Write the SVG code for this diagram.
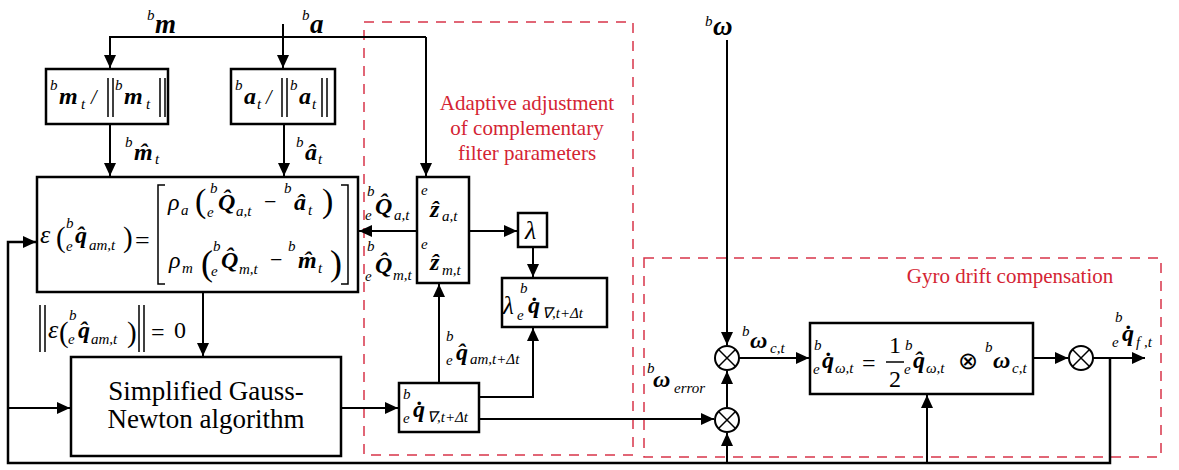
<svg xmlns="http://www.w3.org/2000/svg" width="1179" height="470" viewBox="0 0 1179 470">
<style>
.ln{fill:none;stroke:#000;stroke-width:2}
.bx{fill:#fff;stroke:#000;stroke-width:2.5}
.dl{fill:none;stroke:#000;stroke-width:1.5}
.grp{fill:none;stroke:#d8344a;stroke-width:1.5;stroke-dasharray:10 8}
.t{font-family:"Liberation Serif",serif;fill:#000;font-size:24px}
.rt{font-family:"Liberation Serif",serif;fill:#d42433;font-size:21px;text-anchor:middle}
.gt{font-family:"Liberation Serif",serif;font-size:27px;text-anchor:middle;fill:#000}
.v{font-style:italic;font-weight:bold;font-size:24px}
.i{font-style:italic;font-size:24px}
.sp{font-style:italic;font-weight:normal;font-size:15px}
.sb{font-style:italic;font-weight:normal;font-size:15px}
.r{font-style:normal;font-weight:normal;font-size:24px}
</style>
<defs>
<marker id="ah" markerUnits="userSpaceOnUse" markerWidth="14" markerHeight="12" refX="13" refY="6" orient="auto">
<path d="M0,0 L13,6 L0,12 z" fill="#000"/>
</marker>
</defs>

<g id="regions">
<rect class="grp" x="364" y="22" width="269" height="433"/>
<rect class="grp" x="644" y="258" width="517" height="199"/>
<text class="rt" x="527" y="110">Adaptive adjustment</text>
<text class="rt" x="527" y="135">of complementary</text>
<text class="rt" x="527" y="160">filter parameters</text>
<text class="rt" x="1010" y="283">Gyro drift compensation</text>
</g>

<g id="connectors">
<path class="ln" d="M283,24 L283,68" marker-end="url(#ah)"/>
<path class="ln" d="M426,37 L110,37 L110,68" marker-end="url(#ah)"/>
<path class="ln" d="M426,37 L426,176" marker-end="url(#ah)"/>
<path class="ln" d="M110,124 L110,176" marker-end="url(#ah)"/>
<path class="ln" d="M284,124 L284,176" marker-end="url(#ah)"/>
<path class="ln" d="M417,231 L359,231" marker-end="url(#ah)"/>
<path class="ln" d="M469,231 L517,231" marker-end="url(#ah)"/>
<path class="ln" d="M533,247 L533,277" marker-end="url(#ah)"/>
<path class="ln" d="M439,383 L439,284" marker-end="url(#ah)"/>
<path class="ln" d="M479,397 L533,397 L533,328" marker-end="url(#ah)"/>
<path class="ln" d="M203,292 L203,356" marker-end="url(#ah)"/>
<path class="ln" d="M341,408 L398,408" marker-end="url(#ah)"/>
<path class="ln" d="M479,419 L714,419" marker-end="url(#ah)"/>
<path class="ln" d="M727,463 L727,433" marker-end="url(#ah)"/>
<path class="ln" d="M727,407 L727,371" marker-end="url(#ah)"/>
<path class="ln" d="M727,40 L727,345" marker-end="url(#ah)"/>
<path class="ln" d="M739,358 L809,358" marker-end="url(#ah)"/>
<path class="ln" d="M1033,358 L1068,358" marker-end="url(#ah)"/>
<path class="ln" d="M1093,358 L1145,358" marker-end="url(#ah)"/>
<path class="ln" style="stroke-width:2.5" d="M1110,358 L1110,463 L8,463 L8,242 L36,242" marker-end="url(#ah)"/>
<path class="ln" d="M8,408 L70,408" marker-end="url(#ah)"/>
<path class="ln" d="M927,463 L927,395" marker-end="url(#ah)"/>
</g>

<g id="input-labels">
<text class="t"><tspan class="sp" x="147" y="20">b</tspan><tspan class="v" style="font-size:27px" x="155" y="33">m</tspan></text>
<text class="t"><tspan class="sp" x="302" y="20">b</tspan><tspan class="v" style="font-size:27px" x="310" y="33">a</tspan></text>
<text class="t"><tspan class="sp" x="705" y="26">b</tspan><tspan class="v" style="font-size:27px" x="713" y="35">ω</tspan></text>
</g>

<g id="norm-m">
<rect class="bx" x="46" y="69" width="122" height="55"/>
<path class="dl" d="M108,78 V117 M113,78 V117 M160,78 V117 M165,78 V117"/>
<text class="t"><tspan class="sp" x="50" y="90">b</tspan><tspan class="v" x="59" y="104">m</tspan><tspan class="sb" x="81" y="109">t</tspan><tspan class="i" style="font-size:20px" x="91" y="104">/</tspan><tspan class="sp" x="115" y="90">b</tspan><tspan class="v" x="124" y="104">m</tspan><tspan class="sb" x="146" y="109">t</tspan></text>
</g>

<g id="norm-a">
<rect class="bx" x="231" y="69" width="104" height="55"/>
<path class="dl" d="M282,78 V117 M287,78 V117 M322,78 V117 M327,78 V117"/>
<text class="t"><tspan class="sp" x="235" y="90">b</tspan><tspan class="v" x="244" y="104">a</tspan><tspan class="sb" x="257" y="109">t</tspan><tspan class="i" style="font-size:20px" x="266" y="104">/</tspan><tspan class="sp" x="290" y="90">b</tspan><tspan class="v" x="299" y="104">a</tspan><tspan class="sb" x="312" y="109">t</tspan></text>
</g>

<g id="hat-labels">
<text class="t"><tspan class="sp" x="125" y="147">b</tspan><tspan class="v" x="134" y="160">m̂</tspan><tspan class="sb" x="155" y="164">t</tspan></text>
<text class="t"><tspan class="sp" x="296" y="147">b</tspan><tspan class="v" x="305" y="160">â</tspan><tspan class="sb" x="318" y="164">t</tspan></text>
</g>

<g id="error-box">
<rect class="bx" x="37" y="177" width="321" height="115"/>
<path class="dl" d="M165,185 H158 V284 H165 M341,185 H348 V284 H341"/>
<text class="t"><tspan class="i" style="font-size:26px" x="40" y="243">ε</tspan><tspan class="r" style="font-size:29px" x="56" y="247">(</tspan><tspan class="sp" x="66" y="228">b</tspan><tspan class="sb" x="66" y="251">e</tspan><tspan class="v" x="75" y="243">q̂</tspan><tspan class="sb" x="89" y="250">am,t</tspan><tspan class="r" style="font-size:29px" x="123" y="247">)</tspan><tspan class="r" style="font-size:26px" x="135" y="249">=</tspan></text>
<text class="t"><tspan class="i" x="168" y="210">ρ</tspan><tspan class="sb" x="181" y="215">a</tspan><tspan class="r" style="font-size:34px" x="195" y="212">(</tspan><tspan class="sp" x="210" y="193">b</tspan><tspan class="sb" x="207" y="217">e</tspan><tspan class="v" x="218" y="210">Q̂</tspan><tspan class="sb" x="236" y="216">a,t</tspan><tspan class="r" style="font-size:22px" x="264" y="209">−</tspan><tspan class="sp" x="284" y="193">b</tspan><tspan class="v" x="294" y="210">â</tspan><tspan class="sb" x="308" y="215">t</tspan><tspan class="r" style="font-size:34px" x="322" y="212">)</tspan></text>
<text class="t"><tspan class="i" x="169" y="268">ρ</tspan><tspan class="sb" x="182" y="273">m</tspan><tspan class="r" style="font-size:36px" x="201" y="275">(</tspan><tspan class="sp" x="213" y="251">b</tspan><tspan class="sb" x="211" y="276">e</tspan><tspan class="v" x="221" y="268">Q̂</tspan><tspan class="sb" x="239" y="274">m,t</tspan><tspan class="r" style="font-size:22px" x="270" y="267">−</tspan><tspan class="sp" x="288" y="251">b</tspan><tspan class="v" x="298" y="268">m̂</tspan><tspan class="sb" x="318" y="273">t</tspan><tspan class="r" style="font-size:36px" x="330" y="275">)</tspan></text>
</g>

<g id="norm-zero-label">
<path class="dl" d="M40,305 V352 M45,305 V352 M139,305 V352 M144,305 V352"/>
<text class="t"><tspan class="i" style="font-size:26px" x="48" y="338">ε</tspan><tspan class="r" style="font-size:29px" x="59" y="342">(</tspan><tspan class="sp" x="69" y="320">b</tspan><tspan class="sb" x="68" y="344">e</tspan><tspan class="v" x="78" y="338">q̂</tspan><tspan class="sb" x="91" y="344">am,t</tspan><tspan class="r" style="font-size:29px" x="127" y="342">)</tspan><tspan class="r" x="151" y="340">=</tspan><tspan class="r" x="174" y="338">0</tspan></text>
</g>

<g id="gauss-newton">
<rect class="bx" x="71" y="357" width="270" height="99"/>
<text class="gt" x="206" y="400">Simplified Gauss-</text>
<text class="gt" x="206" y="428">Newton algorithm</text>
</g>

<g id="q-labels">
<text class="t"><tspan class="sp" x="367" y="196">b</tspan><tspan class="sb" x="365" y="220">e</tspan><tspan class="v" x="375" y="214">Q̂</tspan><tspan class="sb" x="394" y="220">a,t</tspan></text>
<text class="t"><tspan class="sp" x="367" y="251">b</tspan><tspan class="sb" x="365" y="281">e</tspan><tspan class="v" x="375" y="273">Q̂</tspan><tspan class="sb" x="393" y="280">m,t</tspan></text>
</g>

<g id="z-box">
<rect class="bx" x="417" y="177" width="52" height="106"/>
<text class="t"><tspan class="sp" x="421" y="195">e</tspan><tspan class="v" x="430" y="217">ẑ</tspan><tspan class="sb" x="442" y="221">a,t</tspan></text>
<text class="t"><tspan class="sp" x="421" y="249">e</tspan><tspan class="v" x="430" y="270">ẑ</tspan><tspan class="sb" x="442" y="275">m,t</tspan></text>
</g>

<g id="lambda-box">
<rect class="bx" x="518" y="213" width="29" height="34"/>
<text class="t"><tspan class="i" style="font-size:26px" x="525" y="239">λ</tspan></text>
</g>

<g id="lambda-q-box">
<rect class="bx" x="502" y="278" width="105" height="49"/>
<text class="t"><tspan class="i" style="font-size:25px" x="503" y="314">λ</tspan><tspan class="sp" x="520" y="293">b</tspan><tspan class="sb" x="517" y="320">e</tspan><tspan class="v" x="528" y="313">q̇</tspan><tspan class="sb" x="542" y="318">∇,t+Δt</tspan></text>
</g>

<g id="qam-label">
<text class="t"><tspan class="sp" x="446" y="341">b</tspan><tspan class="sb" x="446" y="365">e</tspan><tspan class="v" x="456" y="360">q̂</tspan><tspan class="sb" x="470" y="364">am,t+Δt</tspan></text>
</g>

<g id="qdot-box">
<rect class="bx" x="399" y="383" width="80" height="49"/>
<text class="t"><tspan class="sp" x="403" y="399">b</tspan><tspan class="sb" x="403" y="423">e</tspan><tspan class="v" x="413" y="417">q̇</tspan><tspan class="sb" x="427" y="422">∇,t+Δt</tspan></text>
</g>

<g id="sum-upper">
<circle cx="727" cy="358" r="12" fill="#fff" stroke="#000" stroke-width="2"/>
<path class="dl" d="M718.5,349.5 L735.5,366.5 M735.5,349.5 L718.5,366.5"/>
</g>
<g id="sum-lower">
<circle cx="727" cy="420" r="12" fill="#fff" stroke="#000" stroke-width="2"/>
<path class="dl" d="M718.5,411.5 L735.5,428.5 M735.5,411.5 L718.5,428.5"/>
</g>
<g id="sum-out">
<circle cx="1081" cy="358" r="12" fill="#fff" stroke="#000" stroke-width="2"/>
<path class="dl" d="M1072.5,349.5 L1089.5,366.5 M1089.5,349.5 L1072.5,366.5"/>
</g>

<g id="omega-labels">
<text class="t"><tspan class="sp" x="742" y="336">b</tspan><tspan class="v" x="750" y="348">ω</tspan><tspan class="sb" x="770" y="353">c,t</tspan></text>
<text class="t"><tspan class="sp" x="647" y="373">b</tspan><tspan class="v" x="653" y="387">ω</tspan><tspan class="sb" x="674" y="393">error</tspan></text>
</g>

<g id="gyro-box">
<rect class="bx" x="810" y="323" width="223" height="71"/>
<path class="dl" d="M886,362 H904"/>
<text class="t"><tspan class="sp" x="814" y="350">b</tspan><tspan class="sb" x="813" y="374">e</tspan><tspan class="v" x="822" y="368">q̇</tspan><tspan class="sb" x="835" y="373">ω,t</tspan><tspan class="r" x="862" y="371">=</tspan><tspan class="r" x="889" y="353">1</tspan><tspan class="r" x="889" y="387">2</tspan><tspan class="sp" x="905" y="350">b</tspan><tspan class="sb" x="904" y="374">e</tspan><tspan class="v" x="913" y="368">q̂</tspan><tspan class="sb" x="926" y="373">ω,t</tspan><tspan class="r" x="958" y="369">⊗</tspan><tspan class="sp" x="985" y="352">b</tspan><tspan class="v" x="993" y="368">ω</tspan><tspan class="sb" x="1012" y="373">c,t</tspan></text>
</g>

<g id="output-label">
<text class="t"><tspan class="sp" x="1115" y="322">b</tspan><tspan class="sb" x="1112" y="347">e</tspan><tspan class="v" x="1122" y="341">q̇</tspan><tspan class="sb" x="1136" y="347">f ,t</tspan></text>
</g>
</svg>
